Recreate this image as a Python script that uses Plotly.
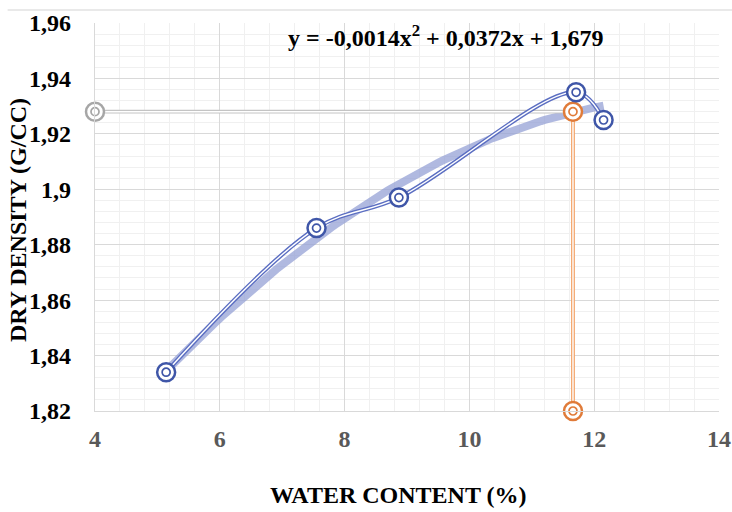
import numpy as np
import plotly.graph_objects as go

# Compaction test results
water_content = [5.14, 7.55, 8.87, 11.71, 12.15]      # %
dry_density = [1.834, 1.886, 1.897, 1.935, 1.925]     # g/cc

# Optimum water content / maximum dry density
omc = 11.66
mdd = 1.928

x_ticks = [4, 6, 8, 10, 12, 14]
y_ticks = [1.82, 1.84, 1.86, 1.88, 1.90, 1.92, 1.94, 1.96]
y_tick_text = ["1,82", "1,84", "1,86", "1,88", "1,9", "1,92", "1,94", "1,96"]
equation = "y = -0,0014x<sup>2</sup> + 0,0372x + 1,679"

SERIF = "Times New Roman, Liberation Serif, Tinos, DejaVu Serif, serif"
BLUE = "#3f56a8"
BLUE_LINE = "#5b6ec2"
ORANGE = "#e07b39"
ORANGE_LINE = "#f3a266"
GREY = "#a6a6a6"
GREY_LINE = "#c4c4c4"

fig = go.Figure()

# quadratic trend line through the measured points
coef = np.polyfit(water_content, dry_density, 2)
xs = np.linspace(min(water_content), max(water_content), 120)
fig.add_trace(go.Scatter(x=xs, y=np.polyval(coef, xs), mode="lines",
                         line=dict(color="rgba(150,162,214,0.75)", width=8),
                         hoverinfo="skip", showlegend=False))


def double_line(x, y, color, shape="linear", width=4.2):
    fig.add_trace(go.Scatter(x=x, y=y, mode="lines",
                             line=dict(color=color, width=width, shape=shape, smoothing=1),
                             cliponaxis=False, showlegend=False))
    fig.add_trace(go.Scatter(x=x, y=y, mode="lines",
                             line=dict(color="white", width=1.4, shape=shape, smoothing=1),
                             cliponaxis=False, showlegend=False))


def target_markers(x, y, color):
    # outer ring on a white disc, then a small inner ring
    fig.add_trace(go.Scatter(x=x, y=y, mode="markers", cliponaxis=False,
                             marker=dict(symbol="circle", size=18, color="white",
                                         line=dict(color=color, width=2.5)),
                             showlegend=False))
    fig.add_trace(go.Scatter(x=x, y=y, mode="markers", cliponaxis=False,
                             marker=dict(symbol="circle-open", size=8, color=color,
                                         line=dict(color=color, width=1.7)),
                             showlegend=False))


# guide lines to the axes
double_line([4, omc], [mdd, mdd], GREY_LINE, width=3.8)
double_line([omc, omc], [1.82, mdd], ORANGE_LINE, width=3.8)

# measured curve
double_line(water_content, dry_density, BLUE_LINE, shape="spline")

target_markers([4], [mdd], GREY)
target_markers([omc, omc], [mdd, 1.82], ORANGE)
target_markers(water_content, dry_density, BLUE)

fig.update_layout(
    width=732, height=512,
    margin=dict(l=95, r=13, t=23, b=101),
    paper_bgcolor="white", plot_bgcolor="white",
    font=dict(family=SERIF, color="black"),
    showlegend=False,
    xaxis=dict(range=[4, 14], tickvals=x_ticks, ticktext=[str(v) for v in x_ticks],
               tickfont=dict(family=SERIF, size=24, color="#595959", weight="bold"),
               ticks="", ticklabelstandoff=6, automargin=False,
               showgrid=True, gridcolor="#d9d9d9", gridwidth=1.3,
               minor=dict(dtick=0.4, showgrid=True, gridcolor="#f0f0f0", gridwidth=1),
               zeroline=False, showline=True, linecolor="#d9d9d9", linewidth=1.3,
               mirror=False),
    yaxis=dict(range=[1.82, 1.96], tickvals=y_ticks, ticktext=y_tick_text,
               tickfont=dict(family=SERIF, size=24, color="black", weight="bold"),
               ticks="", ticklabelstandoff=18, automargin=False,
               showgrid=True, gridcolor="#d9d9d9", gridwidth=1.3,
               minor=dict(dtick=0.004, showgrid=True, gridcolor="#f0f0f0", gridwidth=1),
               zeroline=False, showline=True, linecolor="#d9d9d9", linewidth=1.3),
)

# chart frame top edge
fig.add_shape(type="line", xref="paper", yref="paper", x0=-0.14, x1=1.03,
              y0=1.0335, y1=1.0335, line=dict(color="#e2e2e2", width=1.5))

fig.add_annotation(text=equation, xref="paper", yref="paper", x=0.5616, y=0.966,
                   showarrow=False, xanchor="center", yanchor="middle",
                   font=dict(family=SERIF, size=24, color="black", weight="bold"))
fig.add_annotation(text="WATER CONTENT (%)", xref="paper", yref="paper",
                   x=(398 - 95) / 624, y=(411 - 495) / 388, showarrow=False,
                   xanchor="center", yanchor="middle",
                   font=dict(family=SERIF, size=24, color="black", weight="bold"))
fig.add_annotation(text="DRY DENSITY (G/CC)", xref="paper", yref="paper",
                   x=(18 - 95) / 624, y=(411 - 220) / 388, showarrow=False, textangle=-90,
                   xanchor="center", yanchor="middle",
                   font=dict(family=SERIF, size=24, color="black", weight="bold"))

fig.write_html("out.html")
